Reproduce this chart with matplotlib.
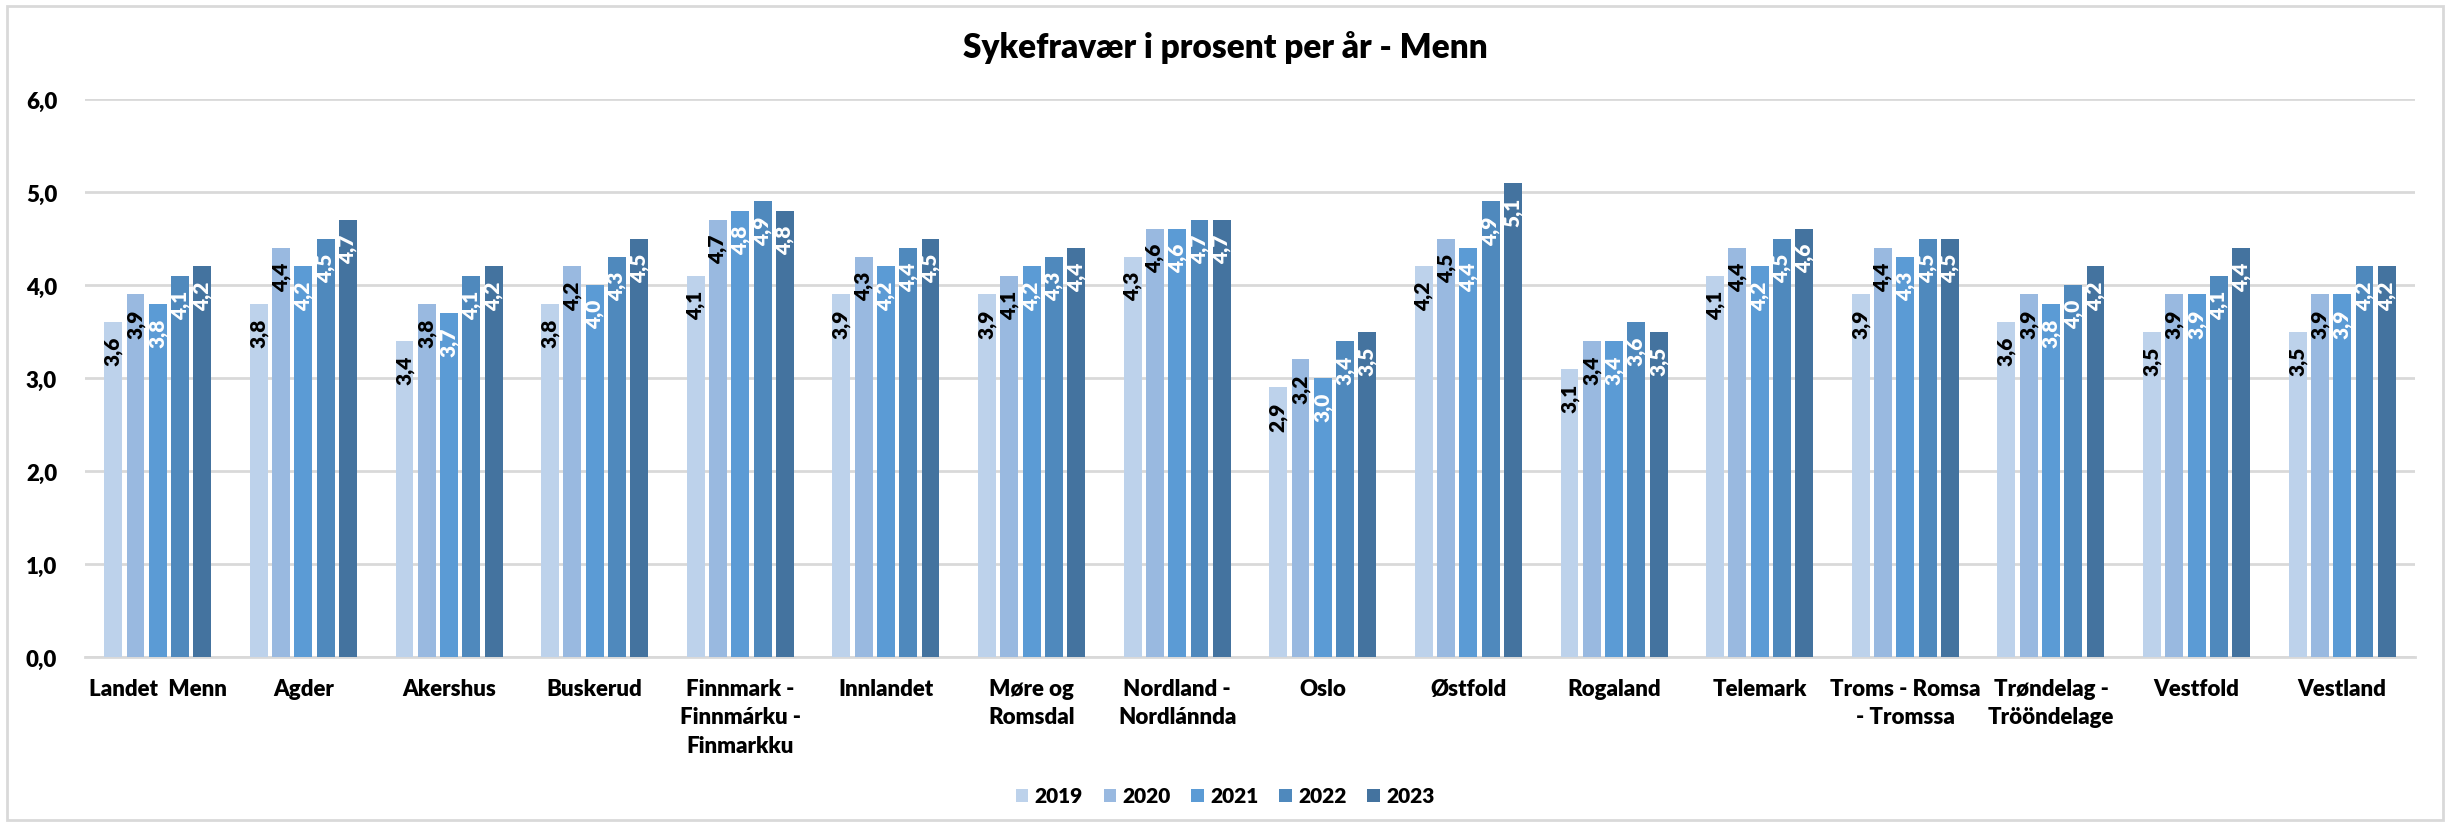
import matplotlib
matplotlib.use("Agg")
import matplotlib.pyplot as plt
import numpy as np
from matplotlib.patches import Rectangle

plt.rcParams['font.family'] = ['Lato', 'DejaVu Sans']

categories = ["Landet  Menn", "Agder", "Akershus", "Buskerud",
              "Finnmark -\nFinnmárku -\nFinmarkku", "Innlandet", "Møre og\nRomsdal",
              "Nordland -\nNordlánnda", "Oslo", "Østfold", "Rogaland", "Telemark",
              "Troms - Romsa\n- Tromssa", "Trøndelag -\nTrööndelage", "Vestfold", "Vestland"]
years = ["2019", "2020", "2021", "2022", "2023"]
v2019 = [3.6, 3.8, 3.4, 3.8, 4.1, 3.9, 3.9, 4.3, 2.9, 4.2, 3.1, 4.1, 3.9, 3.6, 3.5, 3.5]
v2020 = [3.9, 4.4, 3.8, 4.2, 4.7, 4.3, 4.1, 4.6, 3.2, 4.5, 3.4, 4.4, 4.4, 3.9, 3.9, 3.9]
v2021 = [3.8, 4.2, 3.7, 4.0, 4.8, 4.2, 4.2, 4.6, 3.0, 4.4, 3.4, 4.2, 4.3, 3.8, 3.9, 3.9]
v2022 = [4.1, 4.5, 4.1, 4.3, 4.9, 4.4, 4.3, 4.7, 3.4, 4.9, 3.6, 4.5, 4.5, 4.0, 4.1, 4.2]
v2023 = [4.2, 4.7, 4.2, 4.5, 4.8, 4.5, 4.4, 4.7, 3.5, 5.1, 3.5, 4.6, 4.5, 4.2, 4.4, 4.2]
series = [v2019, v2020, v2021, v2022, v2023]
colors = ["#BDD2EB", "#99B9E0", "#5B9BD5", "#4F89BD", "#44739F"]
label_colors = ["black", "black", "white", "white", "white"]

fig = plt.figure(figsize=(24.5, 8.28), dpi=100)
fig.patches.append(Rectangle((7/2450, 7/828), 1 - 14/2450, 1 - 14/828, transform=fig.transFigure,
                             fill=False, edgecolor="#D9D9D9", linewidth=2))
ax = fig.add_axes([85/2450, 1 - 658/828, 2330/2450, (658 - 100)/828])

x = np.arange(len(categories))
pitch = 0.153
width = 0.123
for i, (vals, c, lc, yr) in enumerate(zip(series, colors, label_colors, years)):
    pos = x + (i - 2) * pitch
    ax.bar(pos, vals, width=width, color=c, label=yr, zorder=3)
    for p, v in zip(pos, vals):
        ax.annotate(f"{v:.1f}".replace(".", ","), (p, v), xytext=(0, -10),
                    textcoords="offset points", rotation=90, ha="center", va="top",
                    color=lc, fontsize=15, fontweight="heavy", zorder=4)

ax.set_xlim(-0.5, len(categories) - 0.5)
ax.set_ylim(0, 6)
ticks = np.arange(0, 6.01, 1.0)
ax.set_yticks(ticks)
ax.set_yticklabels([f"{t:.1f}".replace(".", ",") for t in ticks],
                   fontsize=16, fontweight="heavy")
ax.set_xticks(x)
ax.set_xticklabels(categories, fontsize=16, fontweight="heavy", linespacing=1.45)
ax.tick_params(axis="both", length=0)
ax.tick_params(axis="x", pad=15)
ax.tick_params(axis="y", pad=20)
ax.grid(axis="y", color="#D9D9D9", linewidth=2, zorder=0)
for s in ["top", "right", "left"]:
    ax.spines[s].set_visible(False)
ax.spines["bottom"].set_color("#D9D9D9")
ax.spines["bottom"].set_linewidth(2)

fig.text(0.5, 1 - 47/828, "Sykefravær i prosent per år - Menn", ha="center", va="center",
         fontsize=24, fontweight="heavy")

fig.legend(loc="center", bbox_to_anchor=(0.5, 1 - 797/828), ncol=5, frameon=False,
           prop={"weight": "heavy", "size": 15}, handlelength=0.6, handleheight=0.6,
           columnspacing=1.0, handletextpad=0.3)

fig.savefig("out.png", dpi=100)
